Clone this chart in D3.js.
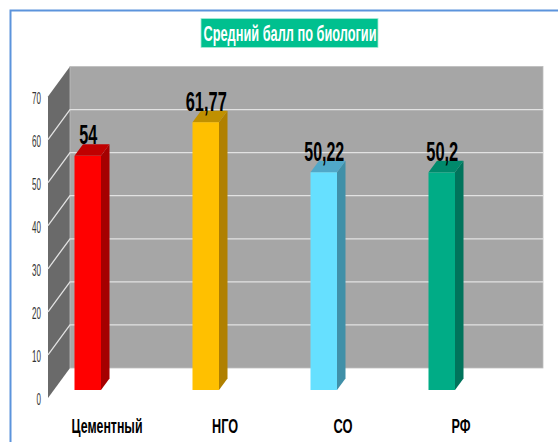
<!DOCTYPE html>
<html lang="ru">
<head>
<meta charset="utf-8">
<script src="https://cdn.jsdelivr.net/npm/d3@7"></script>
<style>
html,body{margin:0;padding:0;background:#fff;overflow:hidden}
svg{display:block}
text{font-family:"Liberation Sans",Arial,sans-serif}
</style>
</head>
<body>
<svg id="c" width="558" height="442"></svg>
<script>
const title = "Средний балл по биологии";
const categories = ["Цементный", "НГО", "СО", "РФ"];
const values = [54, 61.77, 50.22, 50.2];
const valueLabels = ["54", "61,77", "50,22", "50,2"];
const categoryWidths = [71, 26, 19, 19];
const valueLabelWidths = [18, 41, 40, 32];
const frontColors = ["#ff0000", "#ffc000", "#66e0ff", "#00ac86"];
const topColors = ["#c00000", "#c09000", "#50a8c8", "#008a6c"];
const sideColors = ["#a50000", "#b08000", "#4090a8", "#00745c"];
const yTicks = [0, 10, 20, 30, 40, 50, 60, 70];

const svg = d3.select("#c");

// frame
svg.append("path").attr("d", "M10.5,442V10.5H558").attr("fill", "none")
  .attr("stroke", "#5c94dc").attr("stroke-width", 2);

// scales
const yFront = d3.scaleLinear().domain([0, 70]).range([398, 96.5]);
const yBack = d3.scaleLinear().domain([0, 70]).range([368, 66.5]);
const yBar = d3.scaleLinear().domain([0, 70]).range([390, 86.5]);
const x = d3.scaleBand().domain(categories).range([48, 520]);
const depthX = 22, barDepthX = 8.5, barDepthY = 11.5, barWidth = 26.5, barShift = -19.25;
const wallLeft = x.range()[0] + depthX, wallRight = x.range()[1] + depthX + 1;

// walls
svg.append("polygon")
  .attr("points", [[x.range()[0], yFront(70)], [wallLeft, yBack(70)], [wallLeft, yBack(0)], [x.range()[0], yFront(0)]].join(" "))
  .attr("fill", "#6a6a6a");
svg.append("rect")
  .attr("x", wallLeft).attr("y", yBack(70))
  .attr("width", wallRight - wallLeft).attr("height", yBack(0) - yBack(70))
  .attr("fill", "#a6a6a6").attr("stroke", "#bdbdbd").attr("stroke-width", 0.8);

// grid
const gridTicks = yTicks.filter(d => d > 0 && d < 70);
svg.append("g").selectAll("path").data(gridTicks).join("path")
  .attr("d", d => `M${x.range()[0]},${yFront(d)}L${wallLeft},${yBack(d)}H${wallRight}`)
  .attr("fill", "none").attr("stroke", "#e2e2e2").attr("stroke-width", 1.3);

// y axis
const axis = svg.append("g").attr("transform", "translate(41,0)")
  .call(d3.axisLeft(yFront).tickValues(yTicks).tickSize(0).tickPadding(0));
axis.select(".domain").remove();
axis.selectAll("text")
  .attr("x", null).attr("dy", "0.42em")
  .attr("font-size", 16).attr("fill", "#333").attr("text-anchor", "end")
  .attr("font-family", "Liberation Sans")
  .attr("transform", "scale(0.5,1)");

// bars
const bars = svg.append("g").selectAll("g").data(categories).join("g");
const left = c => x(c) + x.bandwidth() / 2 + barShift - barWidth / 2;
bars.append("polygon").attr("fill", (c, i) => sideColors[i])
  .attr("points", (c, i) => {
    const r = left(c) + barWidth, t = yBar(values[i]), b = yBar(0);
    return [[r, t], [r + barDepthX, t - barDepthY], [r + barDepthX, b - barDepthY], [r, b]].join(" ");
  });
bars.append("polygon").attr("fill", (c, i) => topColors[i])
  .attr("points", (c, i) => {
    const l = left(c), t = yBar(values[i]);
    return [[l, t], [l + barDepthX, t - barDepthY], [l + barWidth + barDepthX, t - barDepthY], [l + barWidth, t]].join(" ");
  });
bars.append("rect").attr("fill", (c, i) => frontColors[i])
  .attr("x", left).attr("y", (c, i) => yBar(values[i]))
  .attr("width", barWidth).attr("height", (c, i) => yBar(0) - yBar(values[i]));

// value labels
bars.append("text")
  .attr("x", c => left(c) + barWidth / 2 + 0.5)
  .attr("y", (c, i) => yBar(values[i]) - 11.5)
  .attr("text-anchor", "middle").attr("font-size", 28).attr("font-weight", "bold").attr("fill", "#000")
  .attr("textLength", (c, i) => valueLabelWidths[i]).attr("lengthAdjust", "spacingAndGlyphs")
  .text((c, i) => valueLabels[i]);

// category labels
svg.append("g").selectAll("text").data(categories).join("text")
  .attr("x", c => x(c) + x.bandwidth() / 2)
  .attr("y", 432.5)
  .attr("text-anchor", "middle").attr("font-size", 20).attr("font-weight", "bold").attr("fill", "#000")
  .attr("textLength", (c, i) => categoryWidths[i]).attr("lengthAdjust", "spacingAndGlyphs")
  .text(c => c);

// title
svg.append("rect").attr("x", 201).attr("y", 18.5).attr("width", 177).attr("height", 29)
  .attr("fill", "#00c08f").attr("stroke", "#a8ecd8").attr("stroke-width", 0.8);
svg.append("text").attr("x", 290).attr("y", 41)
  .attr("text-anchor", "middle").attr("font-size", 22).attr("font-weight", "bold").attr("fill", "#fff")
  .attr("textLength", 173).attr("lengthAdjust", "spacingAndGlyphs")
  .text(title);
</script>
</body>
</html>
